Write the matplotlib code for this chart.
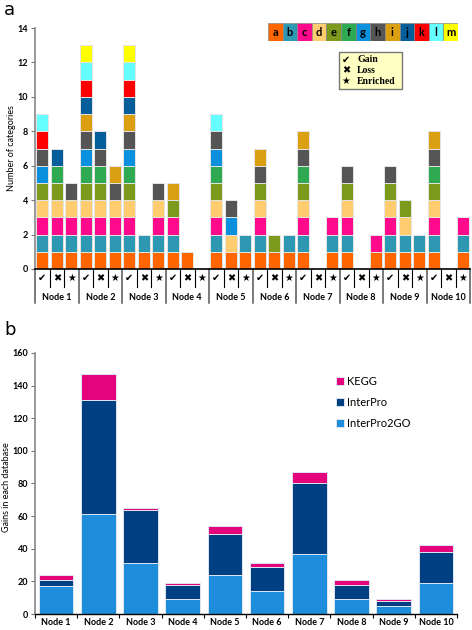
import numpy as np
import matplotlib
matplotlib.use('Agg')
import matplotlib.pyplot as plt
from matplotlib.patches import Rectangle

plt.rcParams['font.family'] = ['Lato', 'DejaVu Sans']

# Panel a data: categories present in each bar (gain / loss / enriched per node)
categories = list("abcdefghijklm")
cat_colors = ['#FF6600', '#2E98B2', '#FF0A8C', '#FFCC70', '#7C9A1E', '#2FAA52',
              '#0B90DE', '#555555', '#DAA012', '#035E9A', '#FF0000', '#66FFFF', '#FFFF00']
nodes = ['Node %d' % i for i in range(1, 11)]
gain = ["abcdeghkl", "abcdefghijklm", "abcdefghijklm", "abcei", "abcdefghl",
        "abcdehi", "abcdefhi", "abcdeh", "abcdeh", "abcdefhi"]
loss = ["abcdefj", "abcdefhj", "ab", "a", "adgh", "ae", "", "", "abde", ""]
enriched = ["abcdh", "abcdhi", "abcdh", "", "ab", "ab", "abc", "ac", "ab", "abc"]
symbols = ['\u2714', '\u2716', '\u2605']
sym_names = ['Gain', 'Loss', 'Enriched']

# Panel b data
db_names = ['InterPro2GO', 'InterPro', 'KEGG']
db_colors = ['#1E8EDC', '#003F82', '#E4047C']
interpro2go = [17, 61, 31, 9, 24, 14, 37, 9, 5, 19]
interpro = [4, 70, 33, 9, 25, 15, 43, 9, 3, 19]
kegg = [3, 16, 1, 1, 5, 2, 7, 3, 1, 4]

fig = plt.figure(figsize=(4.72, 6.3), dpi=100)

# ---------------- panel a ----------------
axa = fig.add_axes([35/472, 1-269/630, 435/472, 241/630])
bars = []
for g, l, e in zip(gain, loss, enriched):
    bars += [g, l, e]
x = np.arange(len(bars))
presence = np.array([[1 if c in b else 0 for b in bars] for c in categories])
bottom = np.zeros(len(bars))
for i, c in enumerate(categories):
    h = presence[i]
    axa.bar(x, h, bottom=bottom, width=0.84, color=cat_colors[i],
            edgecolor='#e4e4e4', linewidth=0.7)
    bottom = bottom + h

axa.set_xlim(-0.5, len(bars) - 0.5)
axa.set_ylim(0, 14)
axa.set_yticks(range(0, 15, 2))
axa.tick_params(axis='y', labelsize=6.5, length=3, width=0.8, color='#777777', pad=2)
for t in axa.get_yticklabels():
    t.set_fontweight('bold')
axa.set_xticks([])
axa.spines['top'].set_visible(False)
axa.spines['right'].set_visible(False)
axa.spines['left'].set_color('#888888')
axa.spines['left'].set_linewidth(1.2)
axa.spines['bottom'].set_linewidth(1.2)
fig.text(12/472, 1-148/630, 'Number of categories', fontsize=6.5, rotation=90,
         ha='center', va='center')

# table below panel a
tr = axa.get_xaxis_transform()
for k in range(len(bars) + 1):
    xs = k - 0.5
    if k % 3 == 0:
        axa.plot([xs, xs], [0, -0.142], transform=tr, color='#555555', lw=1.1, clip_on=False)
    else:
        axa.plot([xs, xs], [0, -0.075], transform=tr, color='black', lw=0.8, clip_on=False)
for k in range(len(bars)):
    axa.text(k, -0.037, symbols[k % 3], transform=tr, ha='center', va='center',
             fontsize=7, family='DejaVu Sans')
for n, name in enumerate(nodes):
    axa.text(3*n + 1, -0.12, name, transform=tr, ha='center', va='center',
             fontsize=6.5, fontweight='bold')

# category colour key
axk = fig.add_axes([268/472, 1-41/630, 190/472, 18/630])
axk.bar(np.arange(len(categories)), 1, width=1, color=cat_colors,
        edgecolor='#888888', linewidth=0.5, align='edge')
for i, c in enumerate(categories):
    axk.text(i + 0.5, 0.5, c, ha='center', va='center', fontsize=8, fontweight='bold')
axk.set_xlim(0, len(categories))
axk.set_ylim(0, 1)
axk.axis('off')

# symbol key box
fig.patches.append(Rectangle((339/472, 1-89/630), 63/472, 37/630, transform=fig.transFigure,
                             facecolor='#FFFFC4', edgecolor='#777777', linewidth=1.0))
for i, (s, nm) in enumerate(zip(symbols, sym_names)):
    yy = 1 - (60 + 10.5*i)/630
    fig.text(346/472, yy, s, ha='center', va='center', fontsize=7, family='DejaVu Sans')
    fig.text(357/472, yy, nm, ha='left', va='center', fontsize=7,
             family='Liberation Serif', fontweight='bold')

fig.text(4/472, 1-10/630, 'a', fontsize=13, va='center', ha='left', family='DejaVu Sans')
fig.text(4/472, 1-330/630, 'b', fontsize=13, va='center', ha='left', family='DejaVu Sans')

# ---------------- panel b ----------------
axb = fig.add_axes([35/472, 1-614/630, 422/472, 261/630])
xb = np.arange(len(nodes))
bot = np.zeros(len(nodes))
for vals, col, nm in zip([interpro2go, interpro, kegg], db_colors, db_names):
    axb.bar(xb, vals, bottom=bot, width=0.82, color=col, edgecolor='#dde6f0',
            linewidth=0.7, label=nm)
    bot = bot + np.array(vals)

axb.set_xlim(-0.5, len(nodes) - 0.5)
axb.set_ylim(0, 160)
axb.set_yticks(range(0, 161, 20))
axb.set_xticks(xb)
axb.set_xticklabels(nodes)
axb.set_xticks(np.arange(len(nodes) + 1) - 0.5, minor=True)
axb.tick_params(axis='x', which='major', length=0, labelsize=6.5, pad=3)
axb.tick_params(axis='x', which='minor', length=3, width=0.8)
axb.tick_params(axis='y', labelsize=6.5, length=3, width=0.8, color='#777777', pad=2)
for t in axb.get_xticklabels() + axb.get_yticklabels():
    t.set_fontweight('bold')
axb.spines['top'].set_visible(False)
axb.spines['right'].set_visible(False)
axb.spines['left'].set_color('#888888')
axb.spines['left'].set_linewidth(1.2)
axb.spines['bottom'].set_linewidth(1.0)
fig.text(7/472, 1-487/630, 'Gains in each database', fontsize=6.5, rotation=90,
         ha='center', va='center')

handles, labels = axb.get_legend_handles_labels()
axb.legend(handles[::-1], labels[::-1], loc='upper left', bbox_to_anchor=(0.69, 0.95),
           frameon=False, fontsize=8, handlelength=0.7, handleheight=0.7,
           handletextpad=0.3, labelspacing=0.9)

fig.savefig('out.png', dpi=100)
